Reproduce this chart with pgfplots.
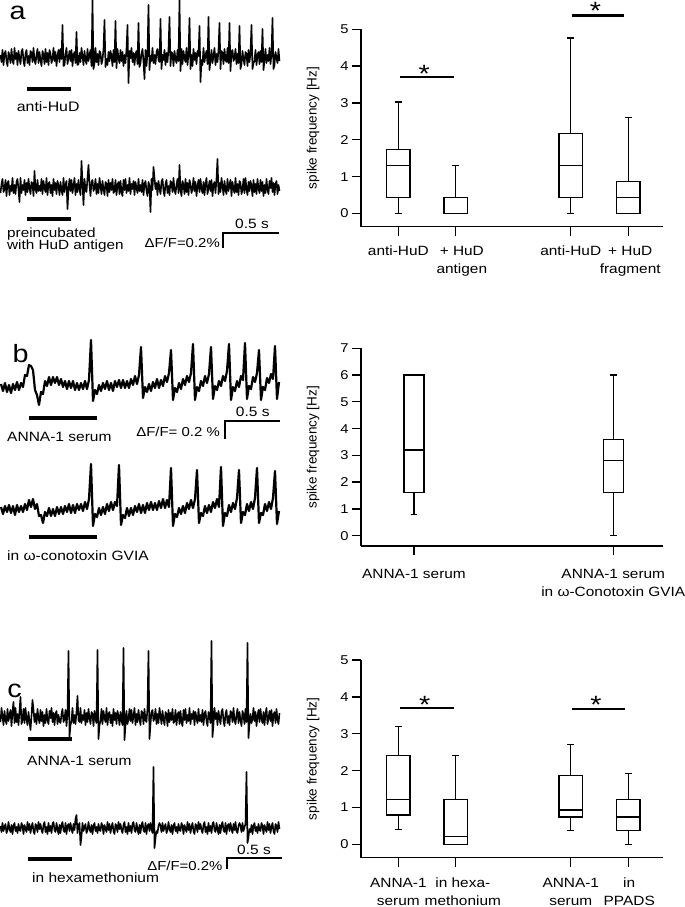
\documentclass[border=0pt]{standalone}
\usepackage{fontspec}
\setmainfont{Liberation Sans}[FakeStretch=1.15]
\newfontfamily\plainsans{Liberation Sans}
\usepackage{pgfplots}
\pgfplotsset{compat=1.18}
\usepackage{pgfplotstable}
\usepgfplotslibrary{statistics}
\newcommand\fs[2]{\fontsize{#1bp}{#2bp}\selectfont}

% ---------- recorded traces: offset from baseline (bp), one sample per bp ----------
\pgfplotstableread[row sep=\\]{y\\
2\\-5\\7\\-8\\3\\6\\-4\\-9\\5\\1\\-6\\8\\-3\\-7\\9\\-2\\4\\-8\\6\\-1\\
-7\\5\\8\\-4\\-9\\3\\7\\-6\\1\\-8\\6\\4\\-5\\9\\-3\\-7\\2\\8\\-6\\5\\
-3\\-9\\6\\2\\-7\\8\\-5\\4\\-8\\7\\3\\-6\\-2\\9\\-4\\5\\-9\\1\\7\\-5\\
8\\-2\\32\\-9\\-8\\3\\9\\-7\\-1\\6\\-4\\7\\-9\\2\\5\\-6\\25\\-8\\-7\\4\\
-5\\9\\1\\-8\\6\\-3\\-7\\8\\-4\\2\\7\\-9\\57\\-12\\-6\\9\\-5\\3\\-8\\6\\
4\\-7\\-3\\8\\37\\-10\\-2\\-8\\5\\-4\\6\\1\\-9\\7\\-5\\36\\-11\\8\\-1\\-6\\
7\\-4\\5\\-9\\2\\-6\\8\\32\\-26\\6\\-1\\9\\-5\\4\\-8\\3\\6\\-7\\34\\-10\\
-6\\3\\8\\-5\\-22\\7\\-9\\4\\52\\-13\\1\\-4\\9\\-6\\2\\-7\\5\\8\\-3\\-5\\
38\\-12\\2\\-3\\7\\-8\\4\\-5\\8\\40\\-9\\5\\3\\-9\\6\\-2\\-6\\7\\-4\\57\\
-14\\8\\-7\\6\\-1\\-5\\9\\-8\\3\\39\\-12\\2\\-9\\8\\-3\\4\\-7\\6\\1\\31\\
-25\\-3\\-8\\9\\-5\\2\\6\\-7\\40\\-13\\-4\\7\\-6\\1\\9\\-8\\3\\-5\\7\\34\\
-12\\6\\4\\-7\\8\\-3\\-5\\9\\-6\\34\\-14\\5\\7\\-4\\-1\\8\\-7\\3\\-6\\31\\
-12\\-7\\6\\-2\\-8\\5\\3\\-9\\7\\-5\\4\\32\\-12\\-6\\-4\\7\\-8\\2\\5\\-7\\
6\\-5\\28\\-13\\-3\\8\\-6\\2\\-4\\9\\-7\\3\\39\\-12\\-8\\5\\-1\\-6\\8\\-4\\
}\traceAa

\pgfplotstableread[row sep=\\]{y\\
-6\\3\\8\\-5\\-2\\7\\-9\\4\\6\\-8\\1\\-4\\9\\-6\\2\\-7\\5\\8\\-3\\-15\\
9\\-6\\2\\-3\\7\\-8\\4\\-5\\8\\-1\\-7\\5\\3\\-9\\16\\-2\\-6\\7\\-4\\1\\
-4\\8\\-7\\6\\-1\\-5\\9\\-8\\3\\5\\-6\\2\\-9\\8\\-3\\4\\-7\\6\\1\\-8\\
5\\-3\\-8\\9\\-5\\2\\6\\-22\\-2\\8\\-4\\7\\-6\\1\\9\\-8\\3\\-5\\7\\-2\\
-8\\26\\4\\-18\\8\\-3\\-5\\9\\22\\2\\-9\\5\\7\\-4\\-1\\8\\-7\\3\\-6\\9\\
1\\-7\\6\\-2\\-8\\5\\3\\-9\\7\\-5\\4\\-3\\8\\-6\\-4\\7\\-8\\2\\5\\-7\\
6\\-5\\-9\\7\\-3\\8\\-6\\2\\-4\\9\\-7\\3\\-2\\6\\-8\\5\\-1\\-6\\8\\-4\\
2\\-5\\7\\-8\\3\\6\\-4\\-9\\5\\1\\-25\\8\\-3\\20\\9\\-2\\4\\-8\\6\\-1\\
-7\\5\\8\\-4\\-9\\3\\7\\-6\\1\\-8\\6\\4\\-5\\9\\-3\\-7\\2\\8\\-6\\22\\
-3\\-9\\6\\2\\-7\\8\\-5\\4\\-8\\7\\3\\-6\\-2\\9\\-4\\5\\-9\\1\\7\\-5\\
8\\-2\\-6\\5\\-8\\3\\9\\-7\\-1\\6\\-4\\7\\-9\\2\\5\\-6\\8\\28\\-7\\4\\
-5\\9\\1\\-8\\6\\-3\\-7\\8\\-4\\2\\7\\-9\\5\\-2\\-6\\9\\-5\\3\\-8\\6\\
4\\-7\\-3\\8\\-6\\9\\-2\\-8\\5\\-4\\6\\1\\-9\\7\\-5\\3\\-7\\8\\-1\\-6\\
7\\-4\\5\\-9\\2\\-6\\8\\-3\\-7\\6\\-1\\9\\-5\\4\\-8\\3\\6\\-7\\2\\-4\\
}\traceAb

% b traces: one sample every 2 bp
\pgfplotstableread[row sep=\\]{y\\
4\\-3\\5\\-4\\3\\-5\\4\\-2\\6\\-2\\
5\\1\\13\\12\\23\\22\\18\\-2\\-7\\-17\\
-4\\-6\\7\\2\\11\\3\\11\\5\\11\\3\\
9\\1\\7\\-1\\7\\0\\7\\-2\\5\\-2\\
5\\-1\\7\\-1\\8\\48\\-13\\-2\\-6\\3\\
-3\\5\\-1\\7\\-2\\5\\-3\\7\\1\\8\\
0\\8\\0\\7\\0\\9\\3\\12\\4\\13\\
41\\-10\\1\\-4\\4\\-3\\6\\0\\9\\0\\
8\\2\\12\\6\\15\\38\\-12\\0\\-4\\5\\
-1\\9\\3\\12\\6\\15\\44\\-12\\1\\-3\\
7\\2\\12\\5\\14\\41\\-11\\2\\-2\\7\\
2\\12\\7\\17\\44\\-12\\1\\-3\\7\\1\\
12\\8\\45\\-11\\2\\-1\\11\\6\\15\\38\\
-12\\1\\-2\\10\\5\\14\\9\\42\\-11\\6\\
}\traceBa

\pgfplotstableread[row sep=\\]{y\\
3\\-4\\4\\-2\\5\\-3\\4\\-5\\5\\-2\\
4\\-2\\6\\0\\10\\3\\11\\1\\6\\-6\\
-5\\-13\\-2\\-6\\2\\-6\\1\\-6\\3\\-4\\
3\\-4\\4\\-2\\6\\-3\\5\\-3\\6\\0\\
6\\-1\\8\\1\\11\\46\\-16\\-4\\-7\\2\\
-5\\3\\-4\\6\\-1\\8\\0\\8\\4\\45\\
-15\\-5\\-8\\2\\-6\\2\\-5\\4\\-2\\6\\
-3\\5\\-3\\7\\0\\8\\0\\7\\0\\9\\
2\\11\\2\\10\\3\\42\\-16\\-4\\-7\\2\\
-4\\4\\-3\\7\\1\\10\\2\\11\\40\\-13\\
-3\\-6\\4\\-3\\5\\-2\\8\\2\\11\\3\\
43\\-16\\-3\\-6\\5\\-2\\7\\1\\12\\40\\
-13\\-2\\-5\\6\\-1\\8\\1\\12\\42\\-13\\
-3\\-5\\6\\-1\\8\\1\\12\\39\\-14\\-1\\
}\traceBb

\pgfplotstableread[row sep=\\]{y\\
-5\\9\\1\\-8\\6\\-3\\-7\\8\\-4\\2\\7\\-9\\5\\15\\-6\\9\\-5\\3\\-8\\6\\
20\\-7\\-3\\8\\-6\\9\\-2\\-8\\5\\-4\\-13\\1\\17\\7\\-5\\3\\-7\\8\\-1\\-6\\
7\\-4\\5\\-9\\2\\-6\\8\\-3\\-7\\6\\-1\\9\\-5\\4\\-8\\3\\6\\-7\\2\\-4\\
-6\\3\\8\\-5\\-2\\7\\-9\\4\\66\\-20\\-8\\-4\\9\\-6\\2\\-7\\5\\21\\-3\\-5\\
9\\-6\\2\\-3\\7\\-8\\4\\-5\\8\\-1\\-7\\5\\3\\-9\\6\\-2\\-6\\67\\-22\\-8\\
-4\\8\\-7\\6\\-1\\-5\\9\\-8\\3\\5\\-6\\2\\-9\\8\\-3\\4\\-7\\6\\1\\-8\\
5\\-3\\-8\\69\\-23\\-8\\6\\-7\\-2\\8\\-4\\7\\-6\\1\\9\\-8\\3\\-5\\7\\-2\\
-8\\6\\4\\-7\\8\\-3\\-5\\9\\66\\-22\\-7\\5\\7\\-4\\-1\\8\\-7\\3\\-6\\9\\
1\\-7\\6\\-2\\-8\\5\\3\\-9\\7\\-5\\4\\-3\\8\\-6\\-4\\7\\-8\\2\\5\\-7\\
6\\-5\\-9\\7\\-3\\8\\-6\\2\\-4\\9\\-7\\3\\-2\\6\\-8\\5\\-1\\-6\\8\\-4\\
2\\-5\\7\\-8\\3\\6\\-4\\-9\\5\\1\\-6\\76\\-20\\-7\\9\\-2\\4\\-8\\6\\-1\\
-7\\5\\8\\-4\\-9\\3\\7\\-6\\1\\-8\\6\\4\\-5\\9\\-3\\-7\\2\\8\\-6\\5\\
-3\\-9\\6\\2\\-7\\8\\-5\\74\\-21\\-7\\3\\-6\\-2\\9\\-4\\5\\-9\\1\\7\\-5\\
8\\-2\\-6\\5\\-8\\3\\9\\-7\\-1\\6\\-4\\7\\-9\\2\\5\\-6\\8\\-3\\-7\\4\\
}\traceCa

\pgfplotstableread[row sep=\\]{y\\
2\\-4\\5\\-3\\1\\4\\-5\\-2\\6\\-1\\-4\\3\\-6\\2\\5\\-3\\1\\-5\\4\\-2\\
-3\\5\\2\\-6\\3\\-1\\-4\\6\\-2\\4\\-5\\1\\5\\-3\\-6\\4\\2\\-4\\6\\-1\\
4\\-2\\-5\\3\\6\\-4\\1\\-6\\5\\-3\\2\\-5\\4\\6\\-2\\-4\\5\\-1\\-6\\3\\
-5\\3\\6\\-2\\-4\\5\\-6\\2\\4\\-3\\5\\-1\\-5\\4\\-2\\9\\13\\-5\\2\\5\\
-17\\-8\\5\\-3\\1\\4\\-5\\-2\\6\\-1\\-4\\3\\-6\\2\\5\\-3\\1\\-5\\4\\-2\\
-3\\5\\2\\-6\\3\\-1\\-4\\6\\-2\\4\\-5\\1\\5\\-3\\-6\\4\\2\\-4\\6\\-1\\
4\\-2\\-5\\3\\6\\-4\\1\\-6\\5\\-3\\2\\-5\\4\\6\\-2\\-4\\5\\-1\\-6\\3\\
-5\\3\\6\\-2\\-4\\5\\-6\\2\\4\\-3\\5\\-1\\-5\\61\\-20\\-10\\-3\\-5\\2\\5\\
2\\-4\\5\\-3\\1\\4\\-5\\-2\\6\\-1\\-4\\3\\-6\\2\\5\\-3\\1\\-5\\4\\-2\\
-3\\5\\2\\-6\\3\\-1\\-4\\6\\-2\\4\\-5\\1\\5\\-3\\-6\\4\\2\\-4\\6\\-1\\
4\\-2\\-5\\3\\6\\-4\\1\\-6\\5\\-3\\2\\-5\\4\\6\\-2\\-4\\5\\-1\\-6\\3\\
-5\\3\\6\\-2\\-4\\5\\-6\\2\\4\\-3\\5\\-1\\-5\\4\\-2\\6\\-3\\-5\\2\\5\\
2\\-4\\5\\-3\\1\\4\\56\\-15\\-9\\-1\\-4\\3\\-6\\2\\5\\-3\\1\\-5\\4\\-2\\
-3\\5\\2\\-6\\3\\-1\\-4\\6\\-2\\4\\-5\\1\\5\\-3\\-6\\4\\2\\-4\\6\\-1\\
}\traceCb

\pgfplotsset{
  trace/.style={hide axis, scale only axis, width=280bp, height=110bp,
    xmin=0, xmax=280, ymin=-40, ymax=70, clip=false, anchor=south west},
  tr/.style={black, line width=1.6bp, line join=round},
  boxax/.style={scale only axis, anchor=south west, clip=false,
    axis x line*=bottom, axis y line*=left,
    axis line style={line width=1.3bp, -},
    tick align=outside, major tick length=9bp,
    tick style={black, line width=1.3bp},
    /pgf/number format/assume math mode=true,
    tick label style={font=\fs{12.8}{15}},
    xticklabel style={align=center, font=\fs{13.4}{18}},
    ylabel={spike frequency [Hz]},
    ylabel style={at={(axis description cs:-0.159,0.5)}, anchor=center,
      font=\plainsans\fs{13.5}{16}},
    boxplot/draw direction=y,
  },
  bx/.style={black, line width=1.3bp, solid, mark=none},
}

\begin{document}
\begin{tikzpicture}
\useasboundingbox (0bp,0bp) rectangle (685bp,-907bp);

% ================= panel a : traces =================
\begin{axis}[trace, at={(0bp,-97bp)}]
\addplot[tr] table[x expr=0.5+\coordindex, y index=0] {\traceAa};
\end{axis}
\begin{axis}[trace, at={(0bp,-227bp)}]
\addplot[tr] table[x expr=0.5+\coordindex, y index=0] {\traceAb};
\end{axis}
\node[font=\fs{25}{25}, inner sep=0] at (17.5bp,-13bp) {a};
\fill (26.7bp,-87bp) rectangle (70.7bp,-91bp);
\node[font=\fs{13.8}{16}, inner sep=0, anchor=base west] at (16.7bp,-111bp) {anti-HuD};
\fill (26.7bp,-217.3bp) rectangle (70.7bp,-221.3bp);
\node[font=\fs{13.3}{16}, inner sep=0, anchor=base west] at (7bp,-237bp) {preincubated};
\node[font=\fs{13.3}{16}, inner sep=0, anchor=base west] at (7bp,-249.5bp) {with HuD antigen};
\draw[line width=2bp] (279bp,-232.7bp) -- (223bp,-232.7bp) -- (223bp,-248.3bp);
\node[font=\fs{13.5}{16}, inner sep=0, anchor=base] at (252bp,-228.3bp) {0.5 s};
\node[font=\fs{13}{16}, inner sep=0, anchor=base east] at (220bp,-247.3bp) {ΔF/F=0.2\%};

% ================= panel b : traces =================
\begin{axis}[trace, at={(0bp,-428bp)}]
\addplot[tr, line width=2.2bp] table[x expr=1+2*\coordindex, y index=0] {\traceBa};
\end{axis}
\begin{axis}[trace, at={(0bp,-550bp)}]
\addplot[tr, line width=2.2bp] table[x expr=1+2*\coordindex, y index=0] {\traceBb};
\end{axis}
\node[font=\fs{25}{25}, inner sep=0] at (20.5bp,-354bp) {b};
\fill (29.3bp,-416.3bp) rectangle (96.7bp,-420.3bp);
\node[font=\fs{13.5}{16}, inner sep=0, anchor=base west] at (7bp,-441bp) {ANNA-1 serum};
\fill (29.3bp,-535.3bp) rectangle (96.7bp,-539.3bp);
\node[font=\fs{13.5}{16}, inner sep=0, anchor=base west] at (7bp,-560.7bp) {in ω-conotoxin GVIA};
\draw[line width=2bp] (280bp,-420.7bp) -- (225bp,-420.7bp) -- (225bp,-439bp);
\node[font=\fs{13.5}{16}, inner sep=0, anchor=base] at (252.7bp,-416.7bp) {0.5 s};
\node[font=\fs{13}{16}, inner sep=0, anchor=base east] at (220bp,-436.7bp) {ΔF/F= 0.2 \%};

% ================= panel c : traces =================
\begin{axis}[trace, at={(0bp,-757bp)}]
\addplot[tr] table[x expr=0.5+\coordindex, y index=0] {\traceCa};
\end{axis}
\begin{axis}[trace, at={(0bp,-868bp)}]
\addplot[tr] table[x expr=0.5+\coordindex, y index=0] {\traceCb};
\end{axis}
\node[font=\fs{25}{25}, inner sep=0] at (14.5bp,-691bp) {c};
\fill (28.3bp,-737bp) rectangle (71.7bp,-741bp);
\node[font=\fs{13.5}{16}, inner sep=0, anchor=base west] at (27bp,-765.7bp) {ANNA-1 serum};
\fill (28.3bp,-856.7bp) rectangle (71.7bp,-860.7bp);
\node[font=\fs{13.5}{16}, inner sep=0, anchor=base west] at (32bp,-882.7bp) {in hexamethonium};
\draw[line width=2bp] (281.7bp,-858.3bp) -- (226.7bp,-858.3bp) -- (226.7bp,-869.3bp);
\node[font=\fs{13.5}{16}, inner sep=0, anchor=base] at (254bp,-854.3bp) {0.5 s};
\node[font=\fs{13}{16}, inner sep=0, anchor=base east] at (222.7bp,-870.3bp) {ΔF/F=0.2\%};

% ================= panel a : box plot =================
\begin{axis}[boxax, at={(361bp,-226.7bp)}, width=301.7bp, height=197.4bp,
  xmin=-0.65, xmax=4.6, ymin=-0.36, ymax=5,
  xtick={0,1,3,4}, ytick={0,1,2,3,4,5},
  xticklabels={anti-HuD,{\hspace*{12bp}+ HuD\\\hspace*{12bp}antigen},anti-HuD,{\hspace*{4bp}+ HuD\\\hspace*{4bp}fragment}},
  xticklabel style={yshift=-7bp},
  boxplot/box extend=0.41, boxplot/whisker extend=0.12]
\addplot[bx, boxplot prepared={draw position=0, lower whisker=0, lower quartile=0.43, median=1.30, upper quartile=1.73, upper whisker=3.03}] coordinates {};
\addplot[bx, boxplot prepared={draw position=1, lower whisker=0, lower quartile=0, median=0, upper quartile=0.43, upper whisker=1.31}] coordinates {};
\addplot[bx, boxplot prepared={draw position=3, lower whisker=0, lower quartile=0.43, median=1.30, upper quartile=2.17, upper whisker=4.76}] coordinates {};
\addplot[bx, boxplot prepared={draw position=4, lower whisker=0, lower quartile=0, median=0.43, upper quartile=0.87, upper whisker=2.61}] coordinates {};
\draw[line width=2.6bp] (axis cs:0.03,3.70) -- (axis cs:0.96,3.70);
\node[anchor=north, inner sep=0, font=\fs{25}{25}] at (axis cs:0.45,4.03) {*};
\draw[line width=2.6bp] (axis cs:3.02,5.38) -- (axis cs:3.93,5.38);
\node[anchor=north, inner sep=0, font=\fs{25}{25}] at (axis cs:3.43,5.75) {*};
\end{axis}

% ================= panel b : box plot =================
\begin{axis}[boxax, at={(361bp,-546bp)}, width=301.7bp, height=197.7bp,
  xmin=-0.266, xmax=1.248, ymin=-0.386, ymax=7,
  xtick={0,1}, ytick={0,1,2,3,4,5,6,7},
  xticklabels={ANNA-1 serum,{ANNA-1 serum\\in ω-Conotoxin GVIA}},
  xticklabel style={yshift=-11bp},
  boxplot/box extend=0.1, boxplot/whisker extend=0.035]
\addplot[bx, boxplot prepared={draw position=0, lower whisker=0.8, lower quartile=1.6, median=3.2, upper quartile=6.0, upper whisker=6.0}] coordinates {};
\addplot[bx, boxplot prepared={draw position=1, lower whisker=0, lower quartile=1.6, median=2.8, upper quartile=3.6, upper whisker=6.0}] coordinates {};
\end{axis}

% ================= panel c : box plot =================
\begin{axis}[boxax, at={(361bp,-857.7bp)}, width=301.7bp, height=197.7bp,
  xmin=-0.65, xmax=4.6, ymin=-0.36, ymax=5,
  xtick={0,1,3,4}, ytick={0,1,2,3,4,5},
  xticklabels={{ANNA-1\\serum},{\hspace*{14bp}in hexa-\\\hspace*{14bp}methonium},{ANNA-1\\serum},{\hspace*{2bp}in\\\hspace*{2bp}PPADS}},
  xticklabel style={yshift=-8bp},
  boxplot/box extend=0.41, boxplot/whisker extend=0.12]
\addplot[bx, boxplot prepared={draw position=0, lower whisker=0.4, lower quartile=0.8, median=1.21, upper quartile=2.41, upper whisker=3.2}] coordinates {};
\addplot[bx, boxplot prepared={draw position=1, lower whisker=0, lower quartile=0, median=0.21, upper quartile=1.21, upper whisker=2.41}] coordinates {};
\addplot[bx, boxplot prepared={draw position=3, lower whisker=0.37, lower quartile=0.74, median=0.93, upper quartile=1.86, upper whisker=2.71}] coordinates {};
\addplot[bx, boxplot prepared={draw position=4, lower whisker=0, lower quartile=0.37, median=0.74, upper quartile=1.21, upper whisker=1.93}] coordinates {};
\draw[line width=2.6bp] (axis cs:0.03,3.70) -- (axis cs:0.97,3.70);
\node[anchor=north, inner sep=0, font=\fs{25}{25}] at (axis cs:0.46,4.01) {*};
\draw[line width=2.6bp] (axis cs:3.02,3.67) -- (axis cs:3.94,3.67);
\node[anchor=north, inner sep=0, font=\fs{25}{25}] at (axis cs:3.44,4.02) {*};
\end{axis}
\end{tikzpicture}
\end{document}
